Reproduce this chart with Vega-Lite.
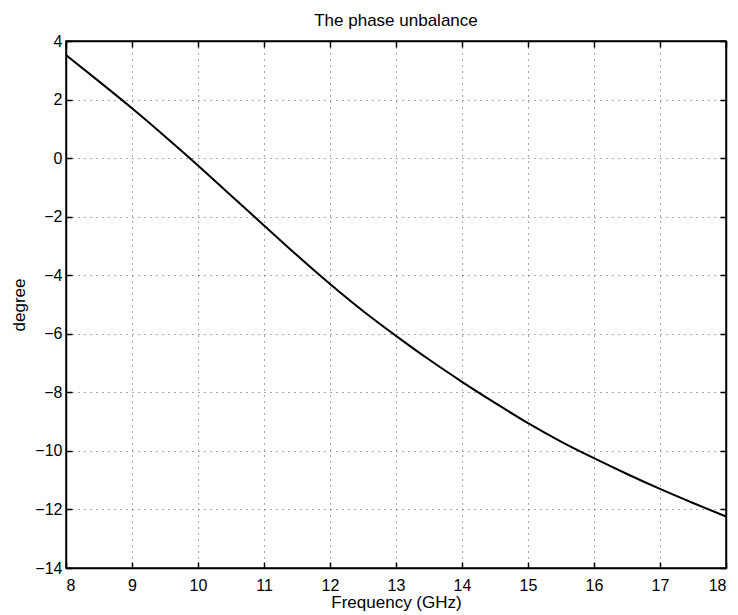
{
  "$schema": "https://vega.github.io/schema/vega-lite/v6.json",
  "width": 660,
  "height": 527,
  "autosize": "none",
  "padding": {"left": 66, "top": 41, "right": 12, "bottom": 47},
  "background": "white",
  "title": {"text": "The phase unbalance", "font": "Liberation Sans", "fontSize": 17, "fontWeight": "normal", "color": "black", "frame": "group", "baseline": "alphabetic", "offset": -10},
  "data": {"values": [
    {"freq": 8, "deg": 3.52},
    {"freq": 8.5, "deg": 2.62},
    {"freq": 9, "deg": 1.7},
    {"freq": 9.5, "deg": 0.74},
    {"freq": 10, "deg": -0.25},
    {"freq": 10.5, "deg": -1.28},
    {"freq": 11, "deg": -2.3},
    {"freq": 11.5, "deg": -3.32},
    {"freq": 12, "deg": -4.3},
    {"freq": 12.5, "deg": -5.22},
    {"freq": 13, "deg": -6.07},
    {"freq": 13.5, "deg": -6.88},
    {"freq": 14, "deg": -7.64},
    {"freq": 14.5, "deg": -8.36},
    {"freq": 15, "deg": -9.05},
    {"freq": 15.5, "deg": -9.68},
    {"freq": 16, "deg": -10.25},
    {"freq": 16.5, "deg": -10.79},
    {"freq": 17, "deg": -11.3},
    {"freq": 17.5, "deg": -11.78},
    {"freq": 18, "deg": -12.24}
  ]},
  "config": {
    "view": {"stroke": "black", "strokeWidth": 1.5},
    "axis": {
      "labelFont": "Liberation Sans", "labelFontSize": 16, "labelColor": "black",
      "titleFont": "Liberation Sans", "titleFontSize": 17, "titleFontWeight": "normal", "titleColor": "black",
      "domainColor": "black", "domainWidth": 1.5, "tickColor": "black", "tickWidth": 1.5, "tickSize": -6,
      "gridColor": "#555555", "gridDash": [1, 5], "gridWidth": 1, "gridOpacity": 1
    }
  },
  "layer": [
    {
      "mark": {"type": "line", "color": "black", "strokeWidth": 2, "interpolate": "monotone"},
      "encoding": {
        "x": {"field": "freq", "type": "quantitative", "scale": {"domain": [8, 18], "nice": false},
              "axis": {"orient": "bottom", "values": [8,9,10,11,12,13,14,15,16,17,18], "title": "Frequency (GHz)", "labelPadding": 15, "titlePadding": 1, "grid": true}},
        "y": {"field": "deg", "type": "quantitative", "scale": {"domain": [-14, 4], "nice": false, "zero": false},
              "axis": {"orient": "left", "values": [-14,-12,-10,-8,-6,-4,-2,0,2,4], "title": "degree", "labelPadding": 10, "titlePadding": 6, "grid": true}}
      }
    },
    {
      "mark": {"type": "line", "opacity": 0},
      "encoding": {
        "x": {"field": "freq", "type": "quantitative", "scale": {"domain": [8, 18], "nice": false},
              "axis": {"orient": "top", "values": [8,9,10,11,12,13,14,15,16,17,18], "labels": false, "title": null, "grid": false}},
        "y": {"field": "deg", "type": "quantitative", "scale": {"domain": [-14, 4], "nice": false, "zero": false},
              "axis": {"orient": "right", "values": [-14,-12,-10,-8,-6,-4,-2,0,2,4], "labels": false, "title": null, "grid": false}}
      }
    }
  ],
  "resolve": {"axis": {"x": "independent", "y": "independent"}}
}
